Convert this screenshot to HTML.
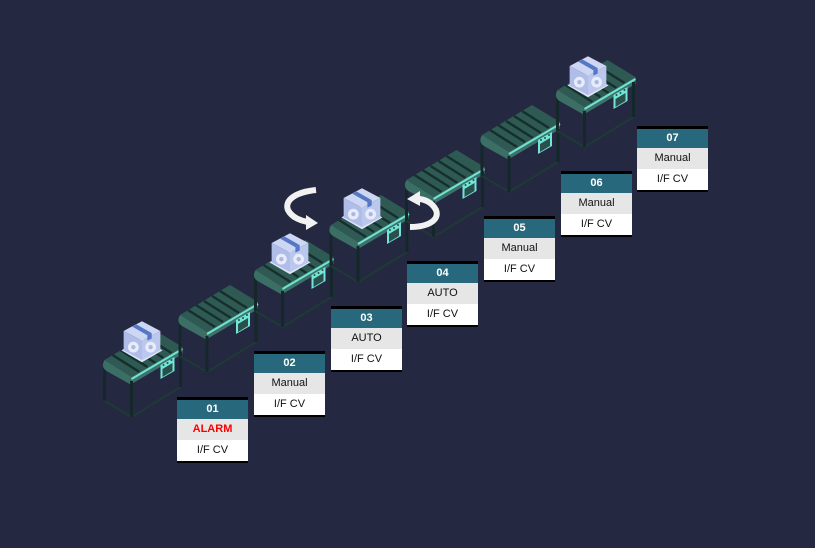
<!DOCTYPE html>
<html><head><style>
html,body{margin:0;padding:0;background:#252841;}
body{width:815px;height:548px;position:relative;overflow:hidden;font-family:"Liberation Sans",sans-serif;}
svg{position:absolute;left:0;top:0;}
.lb{position:absolute;width:71px;border-top:3px solid #000;border-bottom:2px solid #000;font-size:11px;text-align:center;}
.lb div{height:21px;line-height:21px;}
.h{background:#27687c;color:#fff;font-weight:bold;height:19px!important;line-height:19px!important;}
.g{background:#e6e6e6;color:#111;}
.w{background:#fff;color:#111;}
</style></head><body>
<svg width="815" height="548" viewBox="0 0 815 548">
<defs>
<g id="cv">
  <line x1="180" y1="318" x2="180" y2="356" stroke="#14282a" stroke-width="3"/>
  <line x1="230" y1="290" x2="230" y2="326" stroke="#14282a" stroke-width="3"/>
  <polyline points="180,356 207,372 256,342" fill="none" stroke="#1d3a36" stroke-width="2"/>
  <polygon points="180,315 230,285 258,302 207,332" fill="#2f5a53"/>
  <g stroke="#15302c" stroke-width="2.5">
    <line x1="188" y1="310" x2="215" y2="327"/>
    <line x1="196" y1="305" x2="223" y2="322"/>
    <line x1="204" y1="301" x2="231" y2="318"/>
    <line x1="212" y1="296" x2="239" y2="313"/>
    <line x1="220" y1="291" x2="247" y2="308"/>
  </g>
  <path d="M180,315 Q176,322 182,326 L207,340 L207,332 Z" fill="#3b6f66"/>
  <polygon points="207,332 258,302 258,309 207,339" fill="#3d726a"/>
  <line x1="207" y1="334" x2="258" y2="304" stroke="#70e3d1" stroke-width="2"/>
  <line x1="207" y1="336" x2="207" y2="372" stroke="#14282a" stroke-width="3"/>
  <line x1="256" y1="307" x2="256" y2="342" stroke="#14282a" stroke-width="3"/>
  <polygon points="236,320 250,312 250,326 236,334" fill="#6fe6d6"/>
  <polygon points="238,324 248,318 248,326 238,332" fill="#2b4f4a"/>
  <circle cx="239" cy="320" r="1" fill="#2b4f4a"/><circle cx="243" cy="318" r="1" fill="#2b4f4a"/><circle cx="247" cy="315" r="1" fill="#2b4f4a"/>
</g>
<g id="bx">
  <polygon points="-19,5 0,16 19,5 0,-6" fill="#dfe5f8"/>
  <polygon points="0,-22 17,-13 0,-4 -17,-13" fill="#cdd6f2"/>
  <polygon points="-17,-13 0,-4 0,14 -17,5" fill="#b0bde8"/>
  <polygon points="0,-4 17,-13 17,5 0,14" fill="#bcc7ee"/>
  <polygon points="-9,-17 -5,-19 9,-11 5,-9" fill="#5577c6"/>
  <polygon points="5,-9 9,-11 9,-6 5,-4" fill="#5577c6"/>
  <circle cx="-8" cy="2" r="5" fill="#e8ecfa"/><circle cx="8" cy="2" r="5" fill="#e8ecfa"/>
  <circle cx="-8" cy="2" r="2" fill="#a9b8e3"/><circle cx="8" cy="2" r="2" fill="#a9b8e3"/>
</g>
</defs>
<use href="#cv" transform="translate(-75.5,45)"/>
<use href="#cv"/>
<use href="#cv" transform="translate(75.5,-45)"/>
<use href="#cv" transform="translate(151,-90)"/>
<use href="#cv" transform="translate(226.5,-135)"/>
<use href="#cv" transform="translate(302,-180)"/>
<use href="#cv" transform="translate(377.5,-225)"/>
<use href="#bx" transform="translate(142,345) scale(1.08)"/>
<use href="#bx" transform="translate(290,257) scale(1.08)"/>
<use href="#bx" transform="translate(362,212) scale(1.08)"/>
<use href="#bx" transform="translate(588,80) scale(1.08)"/>
<path d="M316,190 C296,192 284,200 288,210 C292,218 302,221 308,222" fill="none" stroke="#f2f2f2" stroke-width="6"/>
<polygon points="306,215 318,223 306,230" fill="#f2f2f2"/>
<path d="M410,227 C428,227 440,220 436,210 C432,202 424,199 418,199" fill="none" stroke="#f2f2f2" stroke-width="6"/>
<polygon points="420,191 407,199 420,206" fill="#f2f2f2"/>
</svg>
<div class="lb" style="left:177px;top:397px"><div class="h">01</div><div class="g" style="color:#f00;font-weight:bold">ALARM</div><div class="w">I/F CV</div></div>
<div class="lb" style="left:254px;top:351px"><div class="h">02</div><div class="g">Manual</div><div class="w">I/F CV</div></div>
<div class="lb" style="left:331px;top:306px"><div class="h">03</div><div class="g">AUTO</div><div class="w">I/F CV</div></div>
<div class="lb" style="left:407px;top:261px"><div class="h">04</div><div class="g">AUTO</div><div class="w">I/F CV</div></div>
<div class="lb" style="left:484px;top:216px"><div class="h">05</div><div class="g">Manual</div><div class="w">I/F CV</div></div>
<div class="lb" style="left:561px;top:171px"><div class="h">06</div><div class="g">Manual</div><div class="w">I/F CV</div></div>
<div class="lb" style="left:637px;top:126px"><div class="h">07</div><div class="g">Manual</div><div class="w">I/F CV</div></div>
</body></html>
